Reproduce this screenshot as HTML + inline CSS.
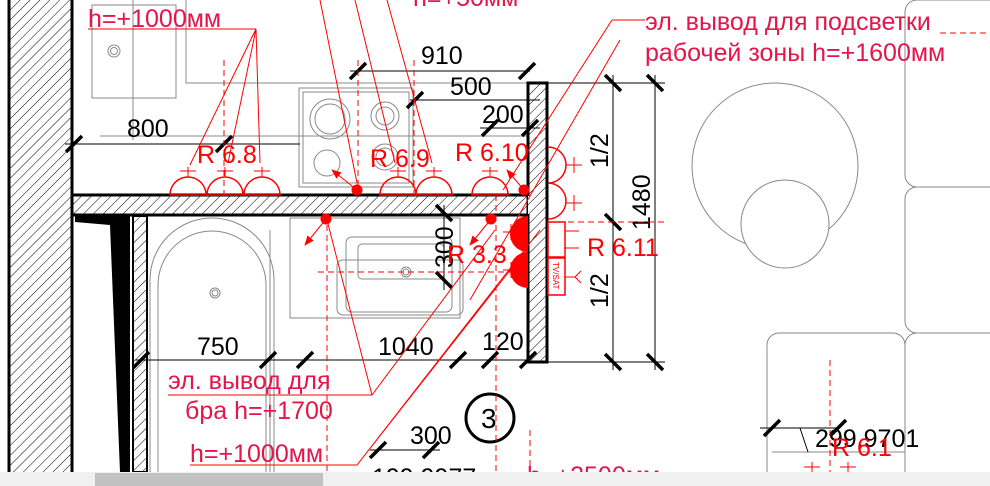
<!DOCTYPE html>
<html><head><meta charset="utf-8"><style>
html,body{margin:0;padding:0;background:#fff;}
svg{display:block;font-family:"Liberation Sans","DejaVu Sans",sans-serif;}
</style></head><body>
<svg width="990" height="486" viewBox="0 0 990 486" xmlns="http://www.w3.org/2000/svg">
<defs>
<pattern id="h" width="7" height="7" patternUnits="userSpaceOnUse" patternTransform="rotate(45)">
<rect width="7" height="7" fill="#fff"/><line x1="0" y1="0" x2="0" y2="7" stroke="#000" stroke-width="1"/>
</pattern>
<marker id="ar" markerWidth="10" markerHeight="10" refX="9" refY="5" orient="auto"><path d="M0,1 L10,5 L0,9 Z" fill="red"/></marker>
</defs>
<g fill="none" stroke="#888" stroke-width="1">
<rect x="92" y="5" width="84" height="93"/>
<circle cx="114" cy="51" r="6"/><circle cx="114" cy="51" r="3.5"/>
<line x1="133" y1="0" x2="133" y2="140"/>
<polyline points="186,0 186,83 530,83"/>
<line x1="100" y1="136" x2="530" y2="136"/>
<rect x="299" y="88" width="114" height="99"/><rect x="303" y="92" width="106" height="91"/>
<circle cx="330" cy="119" r="20"/><circle cx="330" cy="119" r="15"/>
<circle cx="385" cy="116" r="14"/><circle cx="385" cy="116" r="9"/>
<circle cx="327" cy="163" r="13"/><circle cx="385" cy="157" r="13"/><circle cx="385" cy="157" r="9"/>
<rect x="290" y="218" width="170" height="100"/>
<rect x="346" y="237" width="106" height="75" rx="6"/><rect x="358" y="244" width="86" height="35" rx="4"/><rect x="337" y="260" width="126" height="55" rx="6"/>
<circle cx="406" cy="272" r="5"/><circle cx="406" cy="272" r="3"/>
<path d="M150,486 V280 a62,62 0 0 1 124,0 V486"/><path d="M158,486 V285 a54,54 0 0 1 108,0 V486"/>
<circle cx="215" cy="293" r="5"/><circle cx="215" cy="293" r="3"/>
<line x1="270" y1="230" x2="270" y2="486"/>
<circle cx="775" cy="166" r="83"/><circle cx="785" cy="224" r="44" fill="#fff"/>
<rect x="905" y="0" width="100" height="187" rx="12"/><rect x="905" y="187" width="100" height="146" rx="12"/>
<rect x="767" y="333" width="138" height="170" rx="12"/><rect x="905" y="333" width="100" height="170" rx="12"/>
<line x1="772" y1="452" x2="905" y2="452"/>
</g>
<rect x="10" y="0" width="62" height="472" fill="url(#h)"/>
<line x1="9" y1="0" x2="9" y2="472" stroke="#000" stroke-width="3"/>
<line x1="72" y1="0" x2="72" y2="472" stroke="#000" stroke-width="3"/>
<rect x="72" y="195" width="470" height="20" fill="url(#h)" stroke="#000" stroke-width="3"/>
<rect x="528" y="83" width="19" height="279" fill="url(#h)" stroke="#000" stroke-width="3"/>
<rect x="528" y="196" width="12" height="18" fill="url(#h)"/>
<polygon points="75,216 130,216 130,472 120,472 110,225 75,222" fill="#000"/>
<rect x="133" y="216" width="14" height="256" fill="url(#h)" stroke="#000" stroke-width="2"/>
<g stroke="#000" stroke-width="1">
<line x1="350" y1="71" x2="530" y2="71"/><line x1="410" y1="100" x2="540" y2="100"/>
<line x1="480" y1="128" x2="540" y2="128"/><line x1="65" y1="144" x2="300" y2="144"/>
<line x1="135" y1="360" x2="528" y2="360"/><line x1="370" y1="450" x2="440" y2="450"/>
<line x1="548" y1="83" x2="665" y2="83"/><line x1="548" y1="362" x2="665" y2="362"/>
<line x1="613" y1="75" x2="613" y2="370"/><line x1="655" y1="75" x2="655" y2="370"/>
<line x1="444" y1="205" x2="444" y2="290"/>
<line x1="760" y1="428" x2="840" y2="428"/><line x1="800" y1="428" x2="808" y2="452"/>
</g>
<g stroke="#000" stroke-width="3.5">
<path d="M350,79 l16,-16 M519,79 l16,-16 M407,108 l16,-16 M482,136 l16,-16 M522,136 l16,-16 M66,152 l16,-16 M216,152 l16,-16 M133,368 l16,-16 M260,368 l16,-16 M297,368 l16,-16 M450,368 l16,-16 M482,368 l16,-16 M520,368 l16,-16 M370,458 l16,-16 M423,458 l16,-16 M764,436 l16,-16 M830,436 l16,-16"/>
<path d="M605,75 l16,16 M647,75 l16,16 M605,214 l16,16 M605,354 l16,16 M647,354 l16,16 M436,205 l16,16 M436,272 l16,16"/>
</g>
<g font-size="25" fill="#000">
<text x="421" y="64">910</text><text x="450" y="95">500</text><text x="482" y="123">200</text>
<text x="127" y="137">800</text><text x="197" y="355">750</text><text x="378" y="355">1040</text><text x="482" y="350">120</text>
<text x="410" y="444">300</text><text x="815" y="447">299.9701</text>
<text transform="translate(453,268) rotate(-90)">300</text>
<text transform="translate(608,168) rotate(-90)">1/2</text>
<text transform="translate(608,308) rotate(-90)">1/2</text>
<text transform="translate(650,230) rotate(-90)">1480</text>
</g>
<circle cx="490" cy="418" r="24" fill="#fff" stroke="#000" stroke-width="3"/>
<text x="481" y="428" font-size="28">3</text>
<g stroke="red" stroke-width="1" fill="none">
<path d="M170,195 a18,18 0 0 1 36,0 Z M207,195 a18,18 0 0 1 36,0 Z M244,195 a18,18 0 0 1 36,0 Z M380,195 a18,18 0 0 1 36,0 Z M416,195 a18,18 0 0 1 36,0 Z M472,195 a18,18 0 0 1 36,0 Z" stroke-width="1.5"/>
<path d="M188,177 v-10 M180,171 h16 M225,177 v-10 M217,171 h16 M262,177 v-10 M254,171 h16 M398,177 v-10 M390,171 h16 M434,177 v-10 M426,171 h16 M490,177 v-10 M482,171 h16"/>
<path d="M548,147 a18,18 0 0 1 0,36 a18,18 0 0 1 0,36" stroke-width="1.5"/>
<path d="M566,165 h16 M574,157 v16 M566,203 h16 M574,195 v16"/>
<rect x="548" y="222" width="17" height="35" stroke-width="1.5"/><path d="M565,231 h14 M565,248 h14"/>
<rect x="548" y="258" width="17" height="37" stroke-width="1.5"/><path d="M565,277 h10 M575,277 l6,-6 M575,277 l6,6"/>
<path d="M503,232 h16 M511,224 v16 M503,270 h16 M511,262 v16"/>
<path d="M88,29 h168 M256,29 L190,165 M256,29 L228,163 M256,29 L260,163"/>
<path d="M320,0 L357,183 M355,0 L395,163 M387,0 L432,163"/>
<path d="M612,20 H645 M612,20 L503,190 M620,40 L470,300"/>
<path d="M168,395 H372 L327,220 M372,395 L495,230"/>
<path d="M190,465 H357 L526,250 M357,465 L540,230"/>
</g>
<path d="M528,216 a18,18 0 0 0 0,36 a18,18 0 0 0 0,36 Z" fill="red"/>
<g stroke="red" stroke-width="1" stroke-dasharray="6,4" fill="none">
<path d="M224,60 V195 M358,60 V195 M414,60 V195 M496,195 V472 M327,215 V472 M548,222 H665 M318,272 H520 M940,33 H990 M830,360 V472 M530,430 V472"/>
</g>
<g fill="red" stroke="red">
<circle cx="357" cy="190" r="5"/><circle cx="524" cy="190" r="5"/><circle cx="326" cy="219" r="5"/><circle cx="491" cy="219" r="5"/>
<path d="M357,190 L332,170" marker-end="url(#ar)"/><path d="M524,190 L507,170" marker-end="url(#ar)"/>
<path d="M326,219 L305,245" marker-end="url(#ar)"/><path d="M491,219 L470,245" marker-end="url(#ar)"/>
</g>
<g fill="red" font-size="25">
<text x="88" y="27" fill="#e4154b">h=+1000мм</text>
<text x="197" y="163">R 6.8</text><text x="370" y="167">R 6.9</text><text x="455" y="161">R 6.10</text>
<text x="447" y="263">R 3.3</text><text x="587" y="256">R 6.11</text><text x="832" y="456">R 6.1</text>
<text x="413" y="6" fill="#e4154b">h=+50мм</text>
<g fill="#e4154b"><text x="645" y="30">эл. вывод для подсветки</text><text x="645" y="61">рабочей зоны h=+1600мм</text>
<text x="168" y="389">эл. вывод для</text><text x="185" y="419">бра h=+1700</text><text x="190" y="462">h=+1000мм</text>
<text x="527" y="484">h=+2500мм</text><text x="372" y="486" fill="#000">199.9977</text></g>
</g>
<text transform="translate(553,262) rotate(90)" font-size="8" fill="red">TV/SAT</text>
<path d="M812,472 v-10 M804,467 h16 M848,472 v-10 M840,467 h16" stroke="red"/>
<rect x="0" y="472" width="990" height="14" fill="#f0f0f0"/>
<rect x="95" y="473" width="228" height="13" fill="#c1c1c1"/>
</svg>
</body></html>
